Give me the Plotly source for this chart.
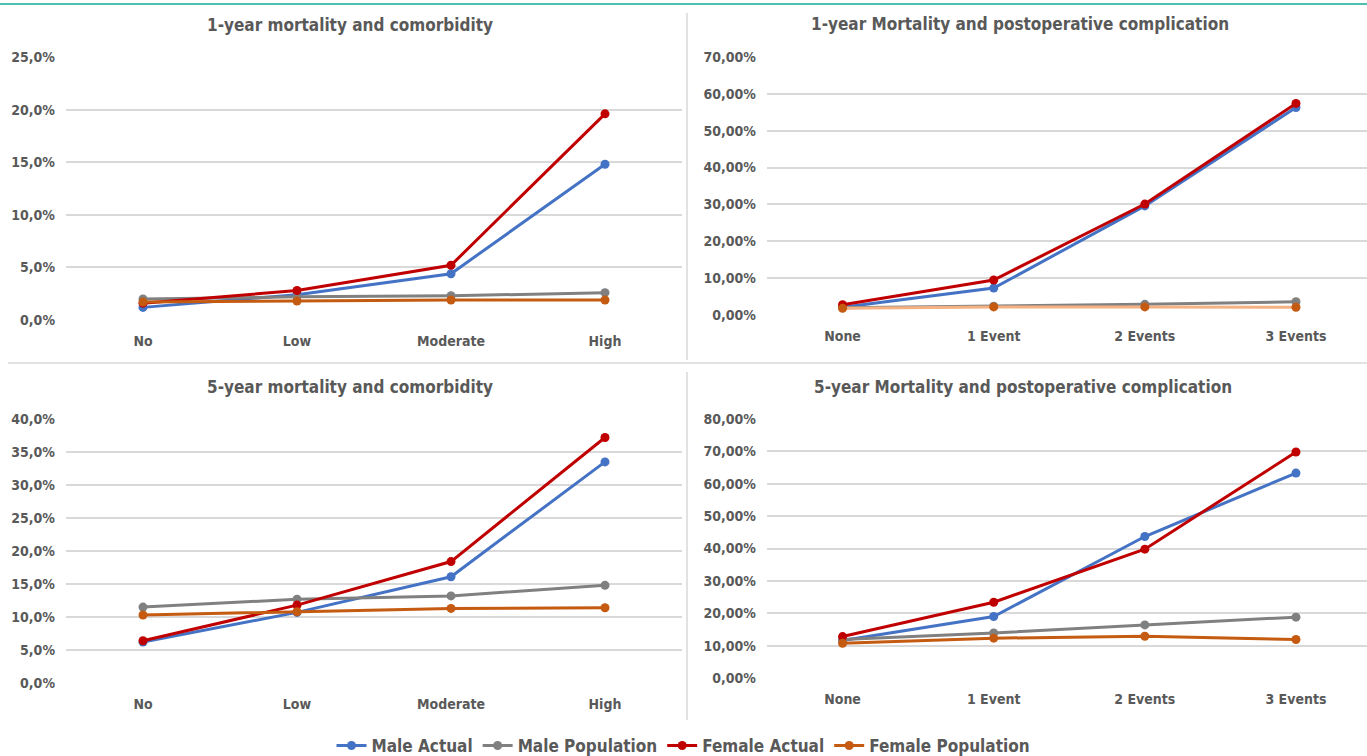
import plotly.graph_objects as go

# ---- data (percent) ----
comorbidity = ["No", "Low", "Moderate", "High"]
complication = ["None", "1 Event", "2 Events", "3 Events"]

series_names = ["Male Actual", "Male Population", "Female Actual", "Female Population"]

# 1-year mortality and comorbidity
y1_com_male_actual = [1.2, 2.4, 4.4, 14.8]
y1_com_male_pop = [2.0, 2.2, 2.3, 2.6]
y1_com_female_actual = [1.6, 2.8, 5.2, 19.6]
y1_com_female_pop = [1.7, 1.8, 1.9, 1.9]

# 1-year mortality and postoperative complication
y1_cpl_male_actual = [2.1, 7.3, 29.6, 56.3]
y1_cpl_male_pop = [2.0, 2.4, 2.9, 3.6]
y1_cpl_female_actual = [2.8, 9.5, 30.1, 57.4]
y1_cpl_female_pop = [1.8, 2.2, 2.2, 2.1]

# 5-year mortality and comorbidity
y5_com_male_actual = [6.2, 10.7, 16.1, 33.5]
y5_com_male_pop = [11.5, 12.7, 13.2, 14.8]
y5_com_female_actual = [6.4, 11.8, 18.4, 37.2]
y5_com_female_pop = [10.3, 10.8, 11.3, 11.4]

# 5-year mortality and postoperative complication
y5_cpl_male_actual = [11.6, 19.0, 43.7, 63.3]
y5_cpl_male_pop = [11.9, 13.9, 16.4, 18.8]
y5_cpl_female_actual = [12.8, 23.4, 39.8, 69.8]
y5_cpl_female_pop = [10.7, 12.3, 12.9, 11.9]

titles = [
    "1-year mortality and comorbidity",
    "1-year Mortality and postoperative complication",
    "5-year mortality and comorbidity",
    "5-year Mortality and postoperative complication",
]

colors = ["#4472C4", "#808080", "#C00000", "#C55A11"]

W, H = 1367, 756
FONT = "DejaVu Sans Condensed, Liberation Sans Narrow, Arial Narrow, sans-serif"
TXT = "#595959"
GRID = "#D9D9D9"


def py(px):
    return 1 - px / H


def pxx(px):
    return px / W


panels = [
    # (axis id, cats, data list, y range, dtick, fmt, xdom, ydom)
    ("", comorbidity,
     [y1_com_male_actual, y1_com_male_pop, y1_com_female_actual, y1_com_female_pop],
     [0, 25], 5, ".1f", [pxx(66), pxx(682)], [py(320), py(57)]),
    ("2", complication,
     [y1_cpl_male_actual, y1_cpl_male_pop, y1_cpl_female_actual, y1_cpl_female_pop],
     [0, 70], 10, ".2f", [pxx(767), 1.0], [py(315), py(57)]),
    ("3", comorbidity,
     [y5_com_male_actual, y5_com_male_pop, y5_com_female_actual, y5_com_female_pop],
     [0, 40], 5, ".1f", [pxx(66), pxx(682)], [py(683), py(419)]),
    ("4", complication,
     [y5_cpl_male_actual, y5_cpl_male_pop, y5_cpl_female_actual, y5_cpl_female_pop],
     [0, 80], 10, ".2f", [pxx(767), 1.0], [py(678), py(419)]),
]

fig = go.Figure()
layout = {}
for pi, (aid, cats, data, yr, dt, fmt, xd, yd) in enumerate(panels):
    for si, vals in enumerate(data):
        line_color = colors[si]
        if pi == 1 and si == 3:
            line_color = "#F4B183"
        fig.add_trace(go.Scatter(
            x=cats, y=vals, mode="lines+markers",
            name=series_names[si],
            legendgroup=series_names[si],
            showlegend=(pi == 0),
            line=dict(color=line_color, width=3),
            marker=dict(color=colors[si], size=9),
            xaxis="x" + aid, yaxis="y" + aid,
            hoverinfo="skip",
        ))
    xr = [-0.5, 3.5] if aid in ("", "3") else [-0.5, 3.47]
    layout["xaxis" + aid] = dict(
        domain=xd, anchor="y" + aid, range=xr, type="category",
        showgrid=False, showline=False, zeroline=False, ticks="",
        tickfont=dict(family=FONT, size=14, color=TXT, weight="bold"),
        ticklabelstandoff=11,
    )
    layout["yaxis" + aid] = dict(
        domain=yd, anchor="x" + aid, range=yr, dtick=dt,
        tickformat=fmt, ticksuffix="%",
        showgrid=True, gridcolor=GRID, gridwidth=1.5,
        zeroline=False, showline=False, ticks="",
        tickfont=dict(family=FONT, size=14, color=TXT, weight="bold"),
        ticklabelstandoff=10,
    )

annotations = []
title_pos = [(350, 25), (1020, 24), (350, 387), (1023, 387)]
for t, (tx, ty) in zip(titles, title_pos):
    annotations.append(dict(
        text=t, x=pxx(tx), y=py(ty), xref="paper", yref="paper",
        xanchor="center", yanchor="middle", showarrow=False,
        font=dict(family=FONT, size=17, color=TXT, weight="bold"),
    ))

shapes = [
    dict(type="line", xref="paper", yref="paper", x0=0, x1=1, y0=py(4), y1=py(4),
         line=dict(color="#4CC1B0", width=2)),
    dict(type="line", xref="paper", yref="paper", x0=pxx(8), x1=1, y0=py(363), y1=py(363),
         line=dict(color=GRID, width=1.5)),
    dict(type="line", xref="paper", yref="paper", x0=pxx(687), x1=pxx(687), y0=py(13), y1=py(360),
         line=dict(color=GRID, width=1.5)),
    dict(type="line", xref="paper", yref="paper", x0=pxx(687), x1=pxx(687), y0=py(372), y1=py(720),
         line=dict(color=GRID, width=1.5)),
]

fig.update_layout(
    width=W, height=H,
    margin=dict(l=0, r=0, t=0, b=0, autoexpand=False),
    paper_bgcolor="white", plot_bgcolor="white",
    separators=",.",
    showlegend=True,
    legend=dict(orientation="h", x=0.5, xanchor="center", y=py(746), yanchor="middle",
                font=dict(family=FONT, size=17, color=TXT, weight="bold"),
                itemwidth=30, tracegroupgap=0),
    annotations=annotations,
    shapes=shapes,
    **layout,
)

fig.write_html(
    "out.html",
    config={"displayModeBar": False},
    post_script="document.body.style.margin='0';document.body.style.overflow='hidden';",
)
